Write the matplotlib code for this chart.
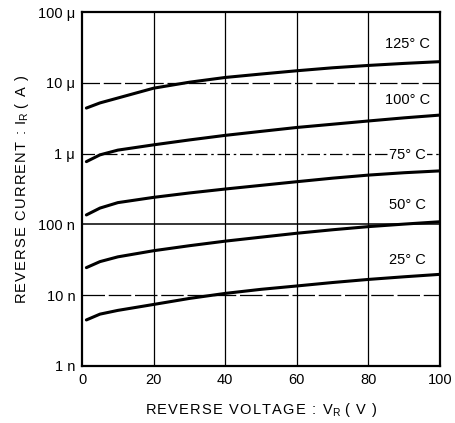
import numpy as np
import matplotlib
matplotlib.use("Agg")
import matplotlib.pyplot as plt

plt.rcParams['font.family'] = ['Liberation Sans', 'DejaVu Sans']
plt.rcParams['mathtext.fontset'] = 'custom'
plt.rcParams['mathtext.rm'] = 'Liberation Sans'

# Reverse voltage (V) sample points
voltage = [1.2, 5, 10, 20, 30, 40, 50, 60, 70, 80, 90, 100]

# Reverse current (A) for each junction temperature
ir_125 = [4.4e-6, 5.2e-6, 6.1e-6, 8.4e-6, 10.2e-6, 11.9e-6, 13.3e-6,
          14.8e-6, 16.3e-6, 17.6e-6, 18.8e-6, 19.9e-6]
ir_100 = [0.77e-6, 0.96e-6, 1.12e-6, 1.33e-6, 1.56e-6, 1.81e-6, 2.06e-6,
          2.34e-6, 2.6e-6, 2.89e-6, 3.2e-6, 3.5e-6]
ir_75 = [136e-9, 170e-9, 203e-9, 241e-9, 278e-9, 316e-9, 356e-9,
         401e-9, 450e-9, 497e-9, 537e-9, 570e-9]
ir_50 = [24.5e-9, 29.8e-9, 34.8e-9, 42.5e-9, 50e-9, 58e-9, 66e-9,
         75e-9, 84e-9, 93e-9, 101e-9, 109e-9]
ir_25 = [4.47e-9, 5.4e-9, 6.1e-9, 7.4e-9, 9.0e-9, 10.6e-9, 12.1e-9,
         13.5e-9, 15.1e-9, 16.7e-9, 18.2e-9, 19.7e-9]

series = [ir_125, ir_100, ir_75, ir_50, ir_25]
temp_labels = ["125° C", "100° C", "75° C", "50° C", "25° C"]
label_pos = [3.5e-5, 5.8e-6, 0.97e-6, 1.85e-7, 3.1e-8]

x_ticks = [0, 20, 40, 60, 80, 100]
y_ticks = [1e-9, 1e-8, 1e-7, 1e-6, 1e-5, 1e-4]
y_tick_labels = ["1 n", "10 n", "100 n", "1 μ", "10 μ", "100 μ"]


def tracked(text):
    """Widen letter spacing with hair spaces."""
    return "\u200a".join(text)


fig = plt.figure(figsize=(4.56, 4.23), dpi=100)
ax = fig.add_axes([0.180, 0.1348, 0.785, 0.8368])
ax.set_yscale('log')
ax.set_xlim(0, 100)
ax.set_ylim(1e-9, 1e-4)

# grid
for xv in x_ticks[1:-1]:
    ax.axvline(xv, color='black', lw=0.9, zorder=1)
ax.axhline(1e-5, color='black', lw=0.9, ls=(0, (14, 3)), zorder=1)
ax.axhline(1e-6, color='black', lw=0.9, ls=(0, (10, 3, 2, 3)), zorder=1)
ax.axhline(1e-7, color='black', lw=1.1, zorder=1)
ax.axhline(1e-8, color='black', lw=0.9, ls=(0, (18, 3)), zorder=1)

for ys in series:
    ax.plot(voltage, ys, color='black', lw=2.2, solid_capstyle='round',
            solid_joinstyle='round', zorder=3)

for lbl, yp in zip(temp_labels, label_pos):
    ax.text(91, yp, lbl, ha='center', va='center', fontsize=10.5,
            bbox=dict(facecolor='white', edgecolor='none', pad=0.5), zorder=4)

ax.set_xticks(x_ticks)
ax.set_xticklabels([str(v) for v in x_ticks], fontsize=10.5)
ax.set_yticks(y_ticks)
ax.set_yticklabels(y_tick_labels, fontsize=10.5)
ax.yaxis.set_minor_locator(matplotlib.ticker.NullLocator())
ax.tick_params(length=0, pad=5)

for sp in ax.spines.values():
    sp.set_linewidth(1.6)

xlabel = tracked("REVERSE VOLTAGE : V") + "$_{\\mathrm{R}}$ " + tracked("( V )")
ylabel = tracked("REVERSE CURRENT : I") + "$_{\\mathrm{R}}$ " + tracked("( A )")
ax.set_xlabel(xlabel, fontsize=10.5, labelpad=10)
ax.set_ylabel(ylabel, fontsize=10.5, labelpad=5)

fig.savefig("out.png", dpi=100)
